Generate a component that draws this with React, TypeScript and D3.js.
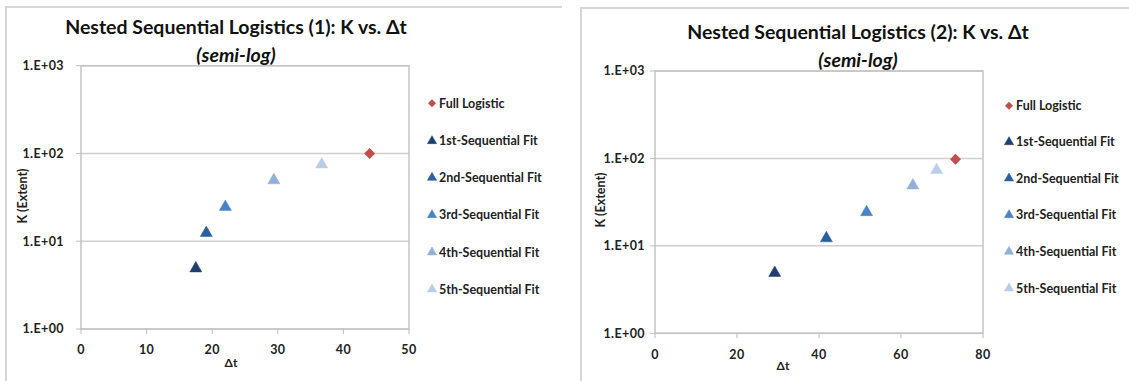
import React from "react";
import * as d3 from "d3";

const seriesNames = [
  "Full Logistic",
  "1st-Sequential Fit",
  "2nd-Sequential Fit",
  "3rd-Sequential Fit",
  "4th-Sequential Fit",
  "5th-Sequential Fit",
];
const seriesColors = ["#C0504D", "#1F3F6E", "#2A5F9E", "#4A82C4", "#93B1D8", "#BACDE6"];
const seriesShapes = ["diamond", "triangle", "triangle", "triangle", "triangle", "triangle"];

// chart 1 values (Δt, K) per series, same order as seriesNames
const chart1Dt = [44.0, 17.5, 19.1, 22.0, 29.4, 36.7];
const chart1K = [100, 4.9, 12.4, 24.6, 49.5, 74.8];
// chart 2 values
const chart2Dt = [73.3, 29.2, 41.8, 51.6, 62.9, 68.7];
const chart2K = [98, 4.9, 12.2, 24.3, 49.1, 73.5];

const chart1XTicks = [0, 10, 20, 30, 40, 50];
const chart2XTicks = [0, 20, 40, 60, 80];
const yTicks = [1, 10, 100, 1000];

const FONT = "Lato, 'Open Sans', 'DejaVu Sans', sans-serif";

type Cfg = {
  title: string;
  frame: [number, number];
  plot: { l: number; r: number; t: number; b: number };
  xMax: number;
  xTicks: number[];
  dt: number[];
  k: number[];
  titleX: number;
  titleY: [number, number];
  yLabelRight: number;
  kLabel: [number, number];
  dtLabel: [number, number];
  xLabelY: number;
  legend: { mx: number; tx: number; ys: number[] };
};

const fmtY = (v: number) => `1.E+${String(Math.round(Math.log10(v))).padStart(2, "0")}`;

function Marker({ shape, x, y, color, r }: { shape: string; x: number; y: number; color: string; r: number }) {
  if (shape === "diamond") {
    return (
      <path
        d={`M${x},${y - r} L${x + r},${y} L${x},${y + r} L${x - r},${y} Z`}
        fill={color}
      />
    );
  }
  const path = d3.symbol(d3.symbolTriangle, r * r * 1.75)()!;
  return <path d={path} transform={`translate(${x},${y})`} fill={color} stroke={color} strokeWidth={0.5} />;
}

function Chart({ c }: { c: Cfg }) {
  const x = d3.scaleLinear().domain([0, c.xMax]).range([c.plot.l, c.plot.r]);
  const y = d3.scaleLog().domain([1, 1000]).range([c.plot.b, c.plot.t]);
  return (
    <g>
      <path
        d={`M${c.frame[0]},400 V${c.frame[1]} H${c.frame[0] + 556}`}
        fill="none"
        stroke="#d6d6d6"
        strokeWidth={2}
      />
      <text x={c.titleX} y={c.titleY[0]} textAnchor="middle" fontFamily={FONT} fontWeight="bold" fontSize={19.5} fill="#111">
        {c.title}
      </text>
      <text x={c.titleX} y={c.titleY[1]} textAnchor="middle" fontFamily={FONT} fontWeight="bold" fontStyle="italic" fontSize={19.5} fill="#111">
        (semi-log)
      </text>
      {yTicks.map((t) => (
        <line key={t} x1={c.plot.l} x2={c.plot.r} y1={y(t)} y2={y(t)} stroke="#cfcfcf" strokeWidth={1.5} />
      ))}
      <rect x={c.plot.l} y={c.plot.t} width={c.plot.r - c.plot.l} height={c.plot.b - c.plot.t} fill="none" stroke="#c4c4c4" strokeWidth={1.5} />
      {yTicks.map((t) => (
        <g key={t}>
          <line x1={c.plot.l - 5} x2={c.plot.l} y1={y(t)} y2={y(t)} stroke="#bdbdbd" strokeWidth={1} />
          <text x={c.yLabelRight} y={y(t)} dy="0.35em" textAnchor="end" fontFamily={FONT} fontWeight="bold" fontSize={12.5} letterSpacing={0.4} fill="#222">
            {fmtY(t)}
          </text>
        </g>
      ))}
      {c.xTicks.map((t) => (
        <g key={t}>
          <line x1={x(t)} x2={x(t)} y1={c.plot.b} y2={c.plot.b + 5} stroke="#bdbdbd" strokeWidth={1} />
          <text x={x(t)} y={c.xLabelY} dy="0.35em" textAnchor="middle" fontFamily={FONT} fontWeight="bold" fontSize={12.5} letterSpacing={0.4} fill="#222">
            {t}
          </text>
        </g>
      ))}
      <text x={c.dtLabel[0]} y={c.dtLabel[1]} dy="0.35em" textAnchor="middle" fontFamily={FONT} fontWeight="bold" fontSize={12} fill="#222">
        Δt
      </text>
      <text
        transform={`translate(${c.kLabel[0]},${c.kLabel[1]}) rotate(-90)`}
        dy="0.35em"
        textAnchor="middle"
        fontFamily={FONT}
        fontWeight="bold"
        fontSize={12.5}
        fill="#222"
      >
        K (Extent)
      </text>
      {seriesNames.map((n, i) => (
        <Marker key={n} shape={seriesShapes[i]} x={x(c.dt[i])} y={y(c.k[i])} color={seriesColors[i]} r={seriesShapes[i] === "diamond" ? 5.5 : 6} />
      ))}
      {seriesNames.map((n, i) => (
        <g key={n}>
          <Marker shape={seriesShapes[i]} x={c.legend.mx} y={c.legend.ys[i]} color={seriesColors[i]} r={seriesShapes[i] === "diamond" ? 4 : 4.6} />
          <text x={c.legend.tx} y={c.legend.ys[i]} dy="0.35em" fontFamily={FONT} fontWeight="bold" fontSize={12.5} fill="#222">
            {n}
          </text>
        </g>
      ))}
    </g>
  );
}

const chart1: Cfg = {
  title: "Nested Sequential Logistics (1): K vs. Δt",
  frame: [6, 7],
  plot: { l: 81, r: 409, t: 65.7, b: 329 },
  xMax: 50,
  xTicks: chart1XTicks,
  dt: chart1Dt,
  k: chart1K,
  titleX: 236,
  titleY: [34, 62],
  yLabelRight: 64,
  kLabel: [23, 196],
  dtLabel: [231, 363],
  xLabelY: 350,
  legend: { mx: 432, tx: 439, ys: [103.3, 141, 177.7, 215, 252.3, 289.3] },
};

const chart2: Cfg = {
  title: "Nested Sequential Logistics (2): K vs. Δt",
  frame: [581, 8],
  plot: { l: 655, r: 983, t: 71, b: 333.3 },
  xMax: 80,
  xTicks: chart2XTicks,
  dt: chart2Dt,
  k: chart2K,
  titleX: 858,
  titleY: [39, 67],
  yLabelRight: 645,
  kLabel: [601, 200],
  dtLabel: [783, 366],
  xLabelY: 354.3,
  legend: { mx: 1009, tx: 1016, ys: [105.7, 142, 178.3, 215, 251.7, 288.3] },
};

export default function App() {
  return (
    <svg width={1129} height={381} style={{ position: "absolute", left: 0, top: 0, background: "#fff" }}>
      <rect x={0} y={0} width={1129} height={381} fill="#fff" />
      <Chart c={chart1} />
      <Chart c={chart2} />
    </svg>
  );
}
